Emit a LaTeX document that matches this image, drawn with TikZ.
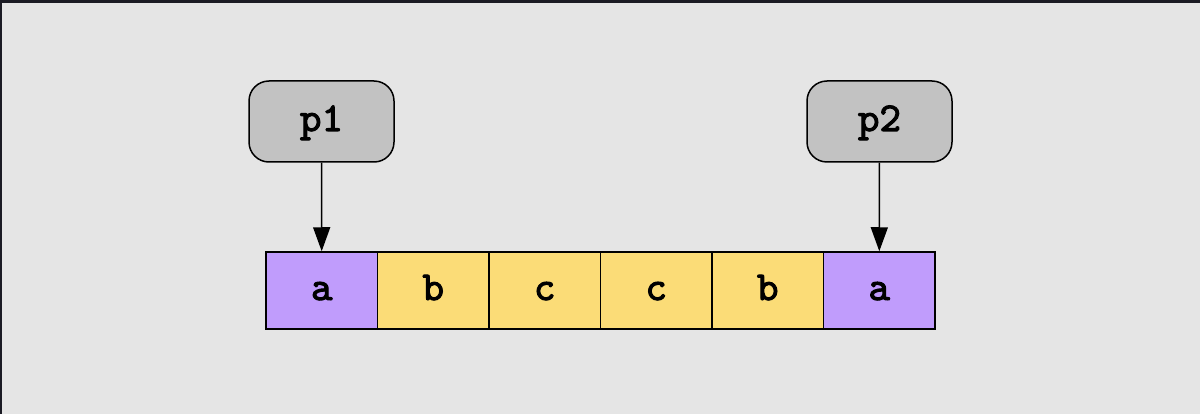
\documentclass[tikz,border=0pt]{standalone}
\usepackage{fontspec}
\newfontfamily\boxfont{lmmono10-regular.otf}[FakeBold=2.5]
\usetikzlibrary{arrows.meta}

\definecolor{bgcol}{HTML}{E5E5E5}
\definecolor{edgecol}{HTML}{1B1B24}
\definecolor{ptrcol}{HTML}{C2C2C2}
\definecolor{endcol}{HTML}{C09CFC}
\definecolor{midcol}{HTML}{FBDC77}

\tikzset{
  ptrbox/.style={draw, line width=1.5pt, rounded corners=20pt, fill=ptrcol,
    minimum width=145pt, minimum height=81pt, inner sep=0pt,
    text height=20pt, text depth=1pt},
  cellbox/.style={draw, line width=1.5pt, minimum width=111.5pt,
    minimum height=77pt, inner sep=0pt, text height=20pt, text depth=1pt},
  ptrarrow/.style={-{Triangle[length=24pt, width=17pt]}, line width=1.5pt}
}

\begin{document}
\begin{tikzpicture}[x=1pt, y=-1pt,
    every node/.style={font=\boxfont\fontsize{41}{48}\selectfont}]
  % Frame
  \fill[bgcol] (0,0) rectangle (1200,414);
  \fill[edgecol] (0,0) rectangle (1200,3);
  \fill[edgecol] (0,0) rectangle (2,414);
  \useasboundingbox (0,0) rectangle (1200,414);

  % Pointers
  \node[ptrbox] (p1) at (321.5,121.5) {p1};
  \node[ptrbox] (p2) at (879.5,121.5) {p2};

  % Cells
  \foreach \i/\t/\c in {1/a/endcol, 2/b/midcol, 3/c/midcol,
                        4/c/midcol, 5/b/midcol, 6/a/endcol}
    \node[cellbox, fill=\c] (c\i) at (210.25+111.5*\i,290.5) {\t};

  % Links
  \draw[ptrarrow] (p1) -- (c1);
  \draw[ptrarrow] (p2) -- (c6);
\end{tikzpicture}
\end{document}
